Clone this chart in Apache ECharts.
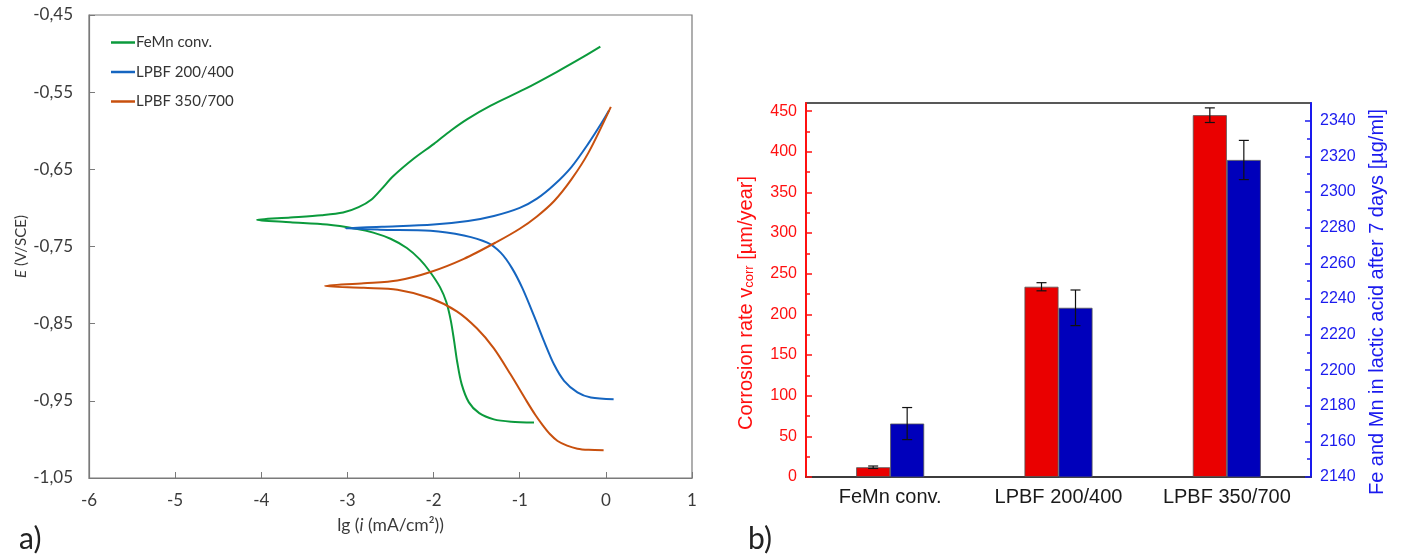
<!DOCTYPE html>
<html>
<head>
<meta charset="utf-8">
<script src="https://cdn.jsdelivr.net/npm/echarts@6/dist/echarts.min.js"></script>
<style>
  html, body { margin: 0; padding: 0; background: #fff; }
  #c { width: 1402px; height: 558px; }
</style>
</head>
<body>
<div id="c"></div>
<script>
// Polarization curves, [lg i, E] pairs in path order: cathodic end -> Ecorr -> anodic end
const femnConv = [
  [-0.834, -0.978], [-1.10, -0.977], [-1.30, -0.974], [-1.47, -0.966], [-1.59, -0.952],
  [-1.675, -0.928], [-1.725, -0.900], [-1.762, -0.872], [-1.800, -0.846], [-1.852, -0.822],
  [-1.924, -0.803], [-2.04, -0.783], [-2.157, -0.767], [-2.31, -0.752], [-2.50, -0.740],
  [-2.70, -0.732], [-2.90, -0.727], [-3.236, -0.7215], [-3.663, -0.7185], [-4.05, -0.7155],
  [-3.663, -0.7125], [-3.30, -0.7095], [-3.05, -0.706], [-2.87, -0.699], [-2.72, -0.689],
  [-2.60, -0.675], [-2.47, -0.659], [-2.229, -0.636], [-1.996, -0.617], [-1.802, -0.600],
  [-1.608, -0.585], [-1.337, -0.5675], [-0.95, -0.5465], [-0.567, -0.5236], [-0.258, -0.504],
  [-0.064, -0.491]
];
const lpbf200 = [
  [0.09, -0.948], [-0.174, -0.9457], [-0.33, -0.939], [-0.485, -0.924], [-0.601, -0.903],
  [-0.717, -0.873], [-0.834, -0.840], [-0.969, -0.804], [-1.09, -0.778], [-1.221, -0.758],
  [-1.376, -0.745], [-1.648, -0.7357], [-2.035, -0.7295], [-2.622, -0.7282], [-3.023, -0.7265],
  [-2.60, -0.7245], [-2.0, -0.7215], [-1.6, -0.717], [-1.3, -0.7105], [-1.0, -0.700],
  [-0.8, -0.688], [-0.6, -0.670], [-0.4, -0.647], [-0.2, -0.616], [-0.05, -0.590],
  [0.038, -0.5734]
];
const lpbf350 = [
  [-0.026, -1.014], [-0.20, -1.0135], [-0.33, -1.012], [-0.45, -1.008], [-0.56, -1.002],
  [-0.65, -0.993], [-0.73, -0.982], [-0.82, -0.968], [-0.916, -0.951],
  [-1.105, -0.916], [-1.30, -0.882], [-1.498, -0.856], [-1.73, -0.834],
  [-2.035, -0.817], [-2.42, -0.806], [-2.81, -0.8036], [-3.26, -0.8012],
  [-2.81, -0.7977], [-2.42, -0.794], [-2.035, -0.783], [-1.648, -0.766], [-1.265, -0.744],
  [-1.0, -0.727], [-0.8, -0.711], [-0.6, -0.691], [-0.4, -0.663], [-0.2, -0.628],
  [0.058, -0.569]
];
const curveNames = ['FeMn conv.', 'LPBF 200/400', 'LPBF 350/700'];
const potentialTicks = [-1.05, -0.95, -0.85, -0.75, -0.65, -0.55, -0.45];

// Corrosion rate and metal release per sample
const samples = ['FeMn conv.', 'LPBF 200/400', 'LPBF 350/700'];
const corrRate = [12, 234, 445];
const corrRateErr = [1.5, 5, 9];
const ionRelease = [2170, 2235, 2318];
const ionReleaseErr = [9, 10, 11];
const rateTicks = [0, 50, 100, 150, 200, 250, 300, 350, 400, 450];
const releaseTicks = [2140, 2160, 2180, 2200, 2220, 2240, 2260, 2280, 2300, 2320, 2340];

const fontA = 'Lato, "Open Sans", sans-serif';
const fontB = '"Liberation Sans", Arial, sans-serif';
const axisGrey = '#7a7a7a';
const textGrey = '#3a3a3a';
const red = '#ff1010';
const blue = '#1a1aee';
const barWidth = 34;

function errorBars(values, errs, yAxisIndex, shift) {
  return {
    type: 'custom',
    xAxisIndex: 1,
    yAxisIndex: yAxisIndex,
    z: 10,
    silent: true,
    data: values.map((v, i) => [i, v - errs[i], v + errs[i]]),
    renderItem(params, api) {
      const lo = api.coord([api.value(0), api.value(1)]);
      const hi = api.coord([api.value(0), api.value(2)]);
      const x = lo[0] + shift;
      const cap = 5;
      const st = { stroke: '#111', lineWidth: 1.2 };
      return {
        type: 'group',
        children: [
          { type: 'line', shape: { x1: x, y1: lo[1], x2: x, y2: hi[1] }, style: st },
          { type: 'line', shape: { x1: x - cap, y1: lo[1], x2: x + cap, y2: lo[1] }, style: st },
          { type: 'line', shape: { x1: x - cap, y1: hi[1], x2: x + cap, y2: hi[1] }, style: st }
        ]
      };
    }
  };
}

function curve(name, data, color) {
  return {
    name, type: 'line', xAxisIndex: 0, yAxisIndex: 0, data,
    showSymbol: false, symbol: 'none', smooth: 0.3,
    lineStyle: { color, width: 2 }, itemStyle: { color },
    animation: false
  };
}

const chart = echarts.init(document.getElementById('c'));
chart.setOption({
  animation: false,
  backgroundColor: '#fff',
  grid: [
    { left: 89, top: 15, width: 603, height: 463, show: true, borderColor: axisGrey, borderWidth: 1.2 },
    { left: 806, top: 103, width: 505, height: 374, show: true, borderColor: '#222', borderWidth: 1.5 }
  ],
  legend: {
    data: curveNames,
    orient: 'vertical',
    left: 106, top: 30,
    icon: 'rect',
    itemWidth: 24, itemHeight: 2.5, itemGap: 14.5,
    textStyle: { fontFamily: fontA, fontSize: 15, color: '#333', padding: [0, 0, 0, -4] }
  },
  xAxis: [
    {
      type: 'value', gridIndex: 0, min: -6, max: 1, interval: 1,
      axisLine: { onZero: false, lineStyle: { color: axisGrey, width: 1.2 } },
      axisTick: { inside: true, length: 6, lineStyle: { color: axisGrey } },
      axisLabel: { fontFamily: fontA, fontSize: 17, color: textGrey, margin: 14 },
      splitLine: { show: false },
      name: '{t|lg (}{i|i}{t| (mA/cm²))}',
      nameLocation: 'middle', nameGap: 38,
      nameTextStyle: {
        rich: {
          t: { fontFamily: fontA, fontSize: 17.5, color: textGrey },
          i: { fontFamily: fontA, fontSize: 17.5, color: textGrey, fontStyle: 'italic' }
        }
      }
    },
    {
      type: 'category', gridIndex: 1, data: samples,
      axisLine: { lineStyle: { color: '#333', width: 1.5 } },
      axisTick: { alignWithLabel: true, length: 6, lineStyle: { color: '#333', width: 1.5 } },
      axisLabel: { fontFamily: fontB, fontSize: 20, color: '#1a1a1a', margin: 10 }
    },
    {
      type: 'category', gridIndex: 1, data: samples,
      axisLine: { show: false },
      axisTick: { length: 6, lineStyle: { color: '#333', width: 1.5 } },
      axisLabel: { show: false }
    }
  ],
  yAxis: [
    {
      type: 'value', gridIndex: 0, min: -1.05, max: -0.45,
      axisLine: { show: true, onZero: false, lineStyle: { color: axisGrey, width: 1.2 } },
      axisTick: { show: true, inside: true, length: 6, customValues: potentialTicks, lineStyle: { color: axisGrey } },
      axisLabel: {
        customValues: potentialTicks,
        formatter: v => v.toFixed(2).replace('.', ','),
        fontFamily: fontA, fontSize: 17, color: textGrey, margin: 16
      },
      splitLine: { show: false },
      name: '{i|E}{t| (V/SCE)}',
      nameLocation: 'middle', nameGap: 60, nameRotate: 90,
      nameTextStyle: {
        rich: {
          t: { fontFamily: fontA, fontSize: 15, color: textGrey },
          i: { fontFamily: fontA, fontSize: 15, color: textGrey, fontStyle: 'italic' }
        }
      }
    },
    {
      type: 'value', gridIndex: 1, position: 'left', min: 0, max: 460, interval: 50,
      axisLine: { show: true, lineStyle: { color: red, width: 2 } },
      axisTick: { show: true, inside: true, length: 6, customValues: rateTicks, lineStyle: { color: red, width: 1.5 } },
      minorTick: { show: true, splitNumber: 2, length: 4, lineStyle: { color: red, width: 1.5 } },
      axisLabel: { customValues: rateTicks, fontFamily: fontB, fontSize: 16, color: red, margin: 9 },
      splitLine: { show: false },
      name: '{n|Corrosion rate }{v|v}{s|corr}{n| [µm/year]}',
      nameLocation: 'middle', nameGap: 50, nameRotate: 90,
      nameTextStyle: {
        padding: [0, 26, 0, 0],
        rich: {
          n: { fontFamily: fontB, fontSize: 20, color: red, lineHeight: 24, verticalAlign: 'bottom' },
          v: { fontFamily: fontB, fontSize: 20, color: red, lineHeight: 24, verticalAlign: 'bottom' },
          s: { fontFamily: fontB, fontSize: 13, color: red, lineHeight: 18, verticalAlign: 'bottom' }
        }
      }
    },
    {
      type: 'value', gridIndex: 1, position: 'right', min: 2140, max: 2350, interval: 20,
      axisLine: { show: true, lineStyle: { color: blue, width: 2 } },
      axisTick: { show: true, inside: true, length: 6, customValues: releaseTicks, lineStyle: { color: blue, width: 1.5 } },
      minorTick: { show: true, splitNumber: 2, length: 4, lineStyle: { color: blue, width: 1.5 } },
      axisLabel: { customValues: releaseTicks, formatter: v => String(v), fontFamily: fontB, fontSize: 16, color: blue, margin: 9 },
      splitLine: { show: false },
      name: 'Fe and Mn in lactic acid after 7 days [µg/ml]',
      nameLocation: 'middle', nameGap: 56, nameRotate: 90,
      nameTextStyle: { fontFamily: fontB, fontSize: 20, color: blue, padding: [0, 24, 0, 0] }
    }
  ],
  series: [
    curve(curveNames[0], femnConv, '#0b9a3c'),
    curve(curveNames[1], lpbf200, '#1565c0'),
    curve(curveNames[2], lpbf350, '#c8500e'),
    {
      type: 'bar', xAxisIndex: 1, yAxisIndex: 1, data: corrRate,
      barWidth, barGap: '0%',
      itemStyle: { color: '#ea0000', borderColor: '#555', borderWidth: 0.8 }
    },
    {
      type: 'bar', xAxisIndex: 1, yAxisIndex: 2, data: ionRelease,
      barWidth, barGap: '0%',
      itemStyle: { color: '#0000bb', borderColor: '#555', borderWidth: 0.8 }
    },
    errorBars(corrRate, corrRateErr, 1, -barWidth / 2),
    errorBars(ionRelease, ionReleaseErr, 2, barWidth / 2)
  ],
  graphic: [
    { type: 'text', left: 19, top: 524, style: { text: 'a)', font: '30px ' + fontA, fill: '#222' } },
    { type: 'text', left: 748, top: 524, style: { text: 'b)', font: '30px ' + fontA, fill: '#222' } }
  ]
});
</script>
</body>
</html>
